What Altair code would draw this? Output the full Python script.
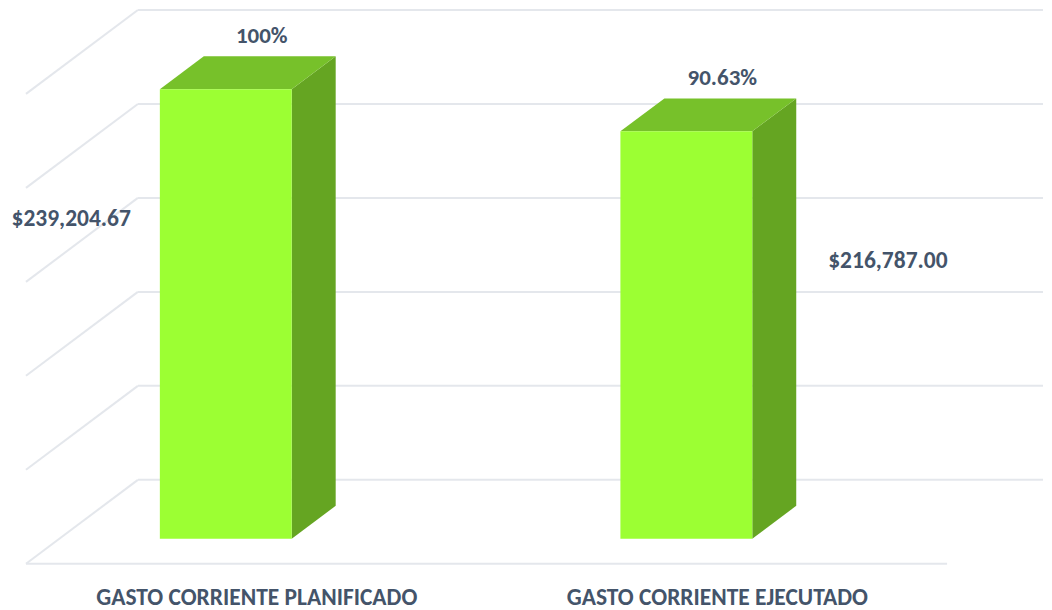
import altair as alt
import pandas as pd

# ---- data ----
categories = ["GASTO CORRIENTE PLANIFICADO", "GASTO CORRIENTE EJECUTADO"]
values = [239204.67, 216787.00]
pct_labels = ["100%", "90.63%"]
amount_labels = ["$239,204.67", "$216,787.00"]
ticks = [0, 50000, 100000, 150000, 200000, 250000]

# ---- layout / style constants ----
W, H = 1036, 600
PXV = values[0] / 450.0          # value units per pixel on the front plane
ZERO_PX = 530                     # pixel row (from top) of value 0
Y_MAX = ZERO_PX * PXV
Y_MIN = -(H - ZERO_PX) * PXV

FLOOR_LEFT, FLOOR_RIGHT = 18, 940
DEPTH_X, DEPTH_Y = 112, 84 * PXV
F0 = -25 * PXV                    # floor front edge value
BACK0 = F0 + DEPTH_Y              # back wall zero

BAR_X0, SLOT, BAR_W = 152, 461, 132
BDX, BDY = 44, 33 * PXV

label_side = ["right", "left"]
label_frac = [0.711, 0.682]

FONT = "Carlito, Calibri, Lato, sans-serif"
TXT = "#44546A"
GRID = "#E4E7EC"
FRONT, TOP, SIDE = "#9CFF33", "#77C12A", "#65A522"

xs = alt.Scale(domain=[0, W], nice=False, zero=False)
ys = alt.Scale(domain=[Y_MIN, Y_MAX], nice=False, zero=False)
noax = None

# gridlines
back = pd.DataFrame({"x": [FLOOR_LEFT + DEPTH_X] * len(ticks), "x2": [W] * len(ticks),
                     "y": [BACK0 + t for t in ticks]})
left = pd.DataFrame({"x": [FLOOR_LEFT] * len(ticks), "x2": [FLOOR_LEFT + DEPTH_X] * len(ticks),
                     "y": [F0 + t for t in ticks], "y2": [BACK0 + t for t in ticks]})
front = pd.DataFrame({"x": [FLOOR_LEFT], "x2": [FLOOR_RIGHT], "y": [F0]})

g_back = alt.Chart(back).mark_rule(color=GRID, strokeWidth=2).encode(
    x=alt.X("x:Q", scale=xs, axis=noax), x2="x2:Q", y=alt.Y("y:Q", scale=ys, axis=noax))
g_left = alt.Chart(left).mark_rule(color=GRID, strokeWidth=2).encode(
    x=alt.X("x:Q", scale=xs, axis=noax), x2="x2:Q",
    y=alt.Y("y:Q", scale=ys, axis=noax), y2="y2:Q")
g_front = alt.Chart(front).mark_rule(color=GRID, strokeWidth=2).encode(
    x=alt.X("x:Q", scale=xs, axis=noax), x2="x2:Q", y=alt.Y("y:Q", scale=ys, axis=noax))

# bars
fr, sd, tp, pl, al, cl = [], [], [], [], [], []
for i, (c, v) in enumerate(zip(categories, values)):
    xl = BAR_X0 + i * SLOT
    xr = xl + BAR_W
    fr.append({"cat": c, "x": xl, "x2": xr, "y": 0, "y2": v})
    sd.append({"cat": c, "x": xr, "y": 0, "y2": v})
    sd.append({"cat": c, "x": xr + BDX, "y": BDY, "y2": v + BDY})
    tp.append({"cat": c, "y": v, "x": xl, "x2": xr})
    tp.append({"cat": c, "y": v + BDY, "x": xl + BDX, "x2": xr + BDX})
    pl.append({"t": pct_labels[i], "x": xl + BAR_W / 2 + 36, "y": v + BDY + 20 * PXV})
    if label_side[i] == "right":
        ax = xl - 29
    else:
        ax = xr + BDX + 32
    al.append({"t": amount_labels[i], "x": ax, "y": v * label_frac[i], "align": label_side[i]})
    cl.append({"t": c, "x": xl + BAR_W / 2 + 31, "y": -59 * PXV})

b_front = alt.Chart(pd.DataFrame(fr)).mark_rect(color=FRONT).encode(
    x=alt.X("x:Q", scale=xs, axis=noax), x2="x2:Q",
    y=alt.Y("y:Q", scale=ys, axis=noax), y2="y2:Q")
b_side = alt.Chart(pd.DataFrame(sd)).mark_area(color=SIDE, orient="vertical").encode(
    x=alt.X("x:Q", scale=xs, axis=noax),
    y=alt.Y("y:Q", scale=ys, axis=noax), y2="y2:Q", detail="cat:N")
b_top = alt.Chart(pd.DataFrame(tp)).mark_area(color=TOP, orient="horizontal").encode(
    y=alt.Y("y:Q", scale=ys, axis=noax),
    x=alt.X("x:Q", scale=xs, axis=noax), x2="x2:Q", detail="cat:N")

t_pct = alt.Chart(pd.DataFrame(pl)).mark_text(
    font=FONT, fontSize=23, fontWeight="bold", color=TXT, baseline="middle", align="center").encode(
    x=alt.X("x:Q", scale=xs, axis=noax), y=alt.Y("y:Q", scale=ys, axis=noax), text="t:N")

adf = pd.DataFrame(al)
t_amt_r = alt.Chart(adf[adf["align"] == "right"]).mark_text(
    font=FONT, fontSize=23.5, fontWeight="bold", color=TXT, baseline="middle", align="right").encode(
    x=alt.X("x:Q", scale=xs, axis=noax), y=alt.Y("y:Q", scale=ys, axis=noax), text="t:N")
t_amt_l = alt.Chart(adf[adf["align"] == "left"]).mark_text(
    font=FONT, fontSize=23.5, fontWeight="bold", color=TXT, baseline="middle", align="left").encode(
    x=alt.X("x:Q", scale=xs, axis=noax), y=alt.Y("y:Q", scale=ys, axis=noax), text="t:N")

t_cat = alt.Chart(pd.DataFrame(cl)).mark_text(
    font=FONT, fontSize=23.5, fontWeight="bold", color=TXT, baseline="middle", align="center").encode(
    x=alt.X("x:Q", scale=xs, axis=noax), y=alt.Y("y:Q", scale=ys, axis=noax), text="t:N")

chart = alt.layer(g_back, g_left, g_front, b_side, b_top, b_front,
                  t_pct, t_amt_r, t_amt_l, t_cat).properties(
    width=W, height=H, padding=0, background="white"
).configure_view(stroke=None)

chart.save("out.html", embed_options={"renderer": "svg", "actions": False})
